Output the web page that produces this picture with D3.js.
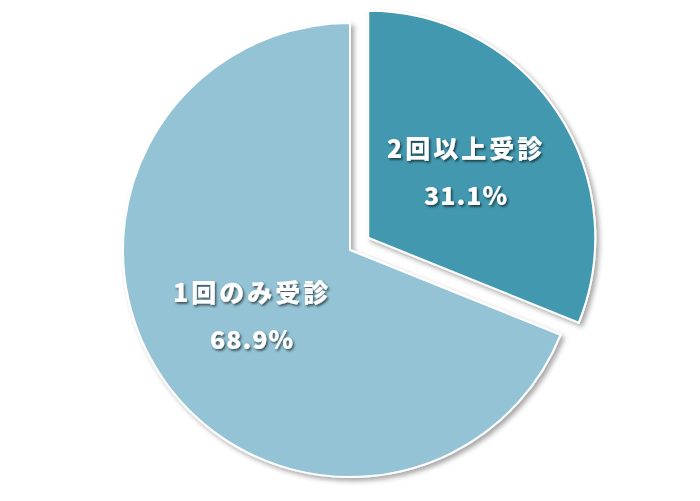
<!DOCTYPE html>
<html><head><meta charset="utf-8">
<script src="https://cdn.jsdelivr.net/npm/d3@7"></script>
<style>body{margin:0;background:#fff;}svg{display:block;}</style>
</head><body>
<svg id="c" width="700" height="501"></svg>
<script>
const categories = ["2回以上受診", "1回のみ受診"];
const values = [31.1, 68.9];
const labels = ["31.1%", "68.9%"];
const colors = ["#4398AF", "#93C3D5"];
const explode = [22, 0];

const svg = d3.select("#c");
const defs = svg.append("defs");
const f = defs.append("filter").attr("id","sh").attr("x","-20%").attr("y","-20%").attr("width","140%").attr("height","140%");
f.append("feDropShadow").attr("dx",3).attr("dy",3).attr("stdDeviation",2.5).attr("flood-color","#000").attr("flood-opacity",0.35);
const tf = defs.append("filter").attr("id","tsh").attr("x","-20%").attr("y","-50%").attr("width","140%").attr("height","200%");
tf.append("feDropShadow").attr("dx",1.5).attr("dy",1.8).attr("stdDeviation",0.9).attr("flood-color","#000").attr("flood-opacity",0.6);

const cx = 350, cy = 250, r = 227;
const pie = d3.pie().sort(null).value(d => d)(values);
const arc = d3.arc().innerRadius(0).outerRadius(r);
const g = svg.append("g").attr("transform", `translate(${cx},${cy})`);

pie.forEach((p, i) => {
  const mid = (p.startAngle + p.endAngle) / 2;
  const dx = Math.sin(mid) * explode[i], dy = -Math.cos(mid) * explode[i];
  const sg = g.append("g").attr("transform", `translate(${dx},${dy})`);
  sg.append("path").attr("d", arc(p)).attr("fill", colors[i])
    .attr("stroke", "#fff").attr("stroke-width", 2).attr("stroke-linejoin","miter")
    .attr("filter", "url(#sh)");
});

pie.forEach((p, i) => {
  const mid = (p.startAngle + p.endAngle) / 2;
  const d = r * 0.52 + explode[i];
  const x = Math.sin(mid) * d, y = -Math.cos(mid) * d;
  const base = g.append("g").attr("fill","#fff")
    .attr("font-family","'Noto Sans CJK JP', sans-serif").attr("font-weight","900")
    .attr("font-size", 25).attr("text-anchor","middle").attr("filter","url(#tsh)");
  base.append("text").attr("x", x).attr("y", y - 14).attr("letter-spacing", 3).text(categories[i]);
  base.append("text").attr("x", x).attr("y", y + 33).attr("letter-spacing", 1).text(labels[i]);
});
</script>
</body></html>
